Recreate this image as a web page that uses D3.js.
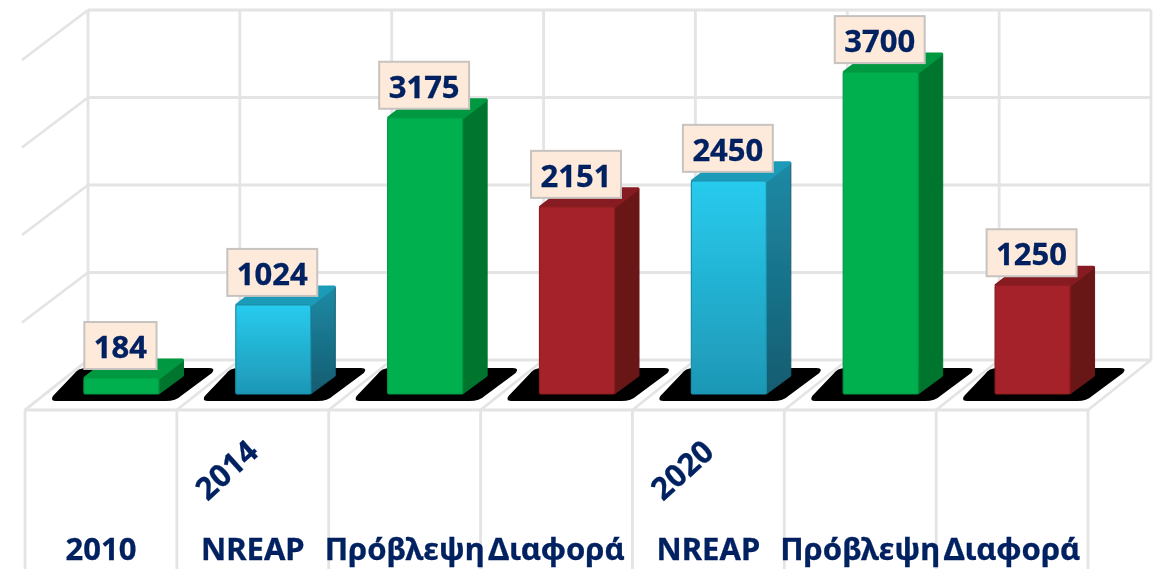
<!DOCTYPE html>
<html>
<head>
<meta charset="utf-8">
<script src="https://cdn.jsdelivr.net/npm/d3@7"></script>
<style>
  html, body { margin: 0; padding: 0; background: #fff; overflow: hidden; }
  text { font-family: "Noto Sans", sans-serif; font-weight: 700; fill: #002060; stroke: #002060; stroke-width: 0.3px; }
</style>
</head>
<body>
<div id="chart"></div>
<script>
const categories = ["2010", "NREAP", "Πρόβλεψη", "Διαφορά", "NREAP", "Πρόβλεψη", "Διαφορά"];
const values = [184, 1024, 3175, 2151, 2450, 3700, 1250];
const barKinds = ["green", "blue", "green", "red", "blue", "green", "red"];
const groupLabels = ["2014", "2020"];
const groupCategory = [1, 4];
const gridTicks = [0, 1000, 2000, 3000, 4000];

const width = 1165;
const height = 569;
const gridColor = "#e4e4e4";
const fontSize = 31;

// the fake 3d: back wall is the front plane pushed by this much
const depthX = 63;
const depthY = -50;
const barW = 75;
const barDepthX = 24.5;
const barDepthY = -18;

const svg = d3.select("#chart").append("svg").attr("width", width).attr("height", height);

const defs = svg.append("defs");
defs.append("filter").attr("id", "soft")
  .attr("x", "-2%").attr("y", "-2%").attr("width", "104%").attr("height", "104%")
  .append("feGaussianBlur").attr("stdDeviation", 0.45);

const palette = {
  green: { front: ["#00b050", "#00b050"], side: ["#00752f", "#00752f"], top: "#00983f", rim: "#009a46" },
  blue: { front: ["#28cbee", "#1e97b5"], side: ["#1e8aa5", "#135c70"], top: "#1f9bb8", rim: "#1b8fab" },
  red: { front: ["#a52429", "#a52429"], side: ["#671517", "#671517"], top: "#861c20", rim: "#8c1d21" }
};

Object.keys(palette).forEach((k) => {
  ["front", "side"].forEach((part) => {
    const grad = defs.append("linearGradient").attr("id", k + "-" + part)
      .attr("x1", 0).attr("y1", 0).attr("x2", 0).attr("y2", 1);
    grad.append("stop").attr("offset", "0%").attr("stop-color", palette[k][part][0]);
    grad.append("stop").attr("offset", "100%").attr("stop-color", palette[k][part][1]);
  });
});

const x = d3.scaleBand().domain(d3.range(categories.length)).range([25, 1088]);
const wallY = d3.scaleLinear().domain([0, 4000]).range([360, 10]);
const barY = d3.scaleLinear().domain([0, 4000]).range([394, 46]);

const chart = svg.append("g").attr("filter", "url(#soft)");

// walls and floor
const walls = chart.append("g")
  .attr("fill", "none")
  .attr("stroke", gridColor)
  .attr("stroke-width", 2.8);

const backLeft = x(0) + depthX;
const backRight = x.range()[1] + depthX;
const slots = d3.range(categories.length + 1).map((i) => x.range()[0] + i * x.step());

walls.selectAll(".hgrid").data(gridTicks).enter().append("line")
  .attr("x1", backLeft).attr("x2", backRight)
  .attr("y1", (d) => wallY(d)).attr("y2", (d) => wallY(d));

walls.selectAll(".vgrid").data(slots).enter().append("line")
  .attr("x1", (d) => d + depthX).attr("x2", (d) => d + depthX)
  .attr("y1", wallY(4000)).attr("y2", wallY(0));

// side wall, the upper ones stop a bit short of the floor corner
walls.selectAll(".sidegrid").data(gridTicks).enter().append("line")
  .attr("x1", backLeft).attr("y1", (d) => wallY(d))
  .attr("x2", (d) => (d === 0 ? backLeft - depthX : backLeft - 66))
  .attr("y2", (d) => wallY(d) - depthY);

walls.selectAll(".floorgrid").data(slots).enter().append("line")
  .attr("x1", (d) => d).attr("y1", wallY(0) - depthY)
  .attr("x2", (d) => d + depthX).attr("y2", wallY(0));

walls.append("line")
  .attr("x1", x.range()[0]).attr("x2", x.range()[1])
  .attr("y1", wallY(0) - depthY).attr("y2", wallY(0) - depthY);

walls.selectAll(".catgrid").data(slots).enter().append("line")
  .attr("x1", (d) => d).attr("x2", (d) => d)
  .attr("y1", wallY(0) - depthY).attr("y2", height);

const barLeft = (i) => x(i) + (x.step() - barW) / 2 + 20.5;

// black floor shadows, rounded at the two obtuse corners
chart.append("g").selectAll("path").data(values).enter().append("path")
  .attr("fill", "#000")
  .attr("d", (d, i) => {
    const l = barLeft(i);
    const b = barY(0);
    const p = d3.path();
    p.moveTo(l - 28, b + 7);
    p.lineTo(l + 82, b + 7);
    p.quadraticCurveTo(l + 92, b + 7, l + 97, b + 2);
    p.lineTo(l + 128, b - 21);
    p.quadraticCurveTo(l + 132, b - 26, l + 125, b - 26);
    p.lineTo(l + 2, b - 26);
    p.quadraticCurveTo(l - 6, b - 26, l - 10, b - 20);
    p.lineTo(l - 31, b + 2);
    p.quadraticCurveTo(l - 34, b + 7, l - 28, b + 7);
    p.closePath();
    return p.toString();
  });

// bars
const bars = chart.append("g").selectAll("g").data(values).enter().append("g");

bars.append("path")
  .attr("fill", (d, i) => `url(#${barKinds[i]}-side)`)
  .attr("stroke", (d, i) => palette[barKinds[i]].side[1])
  .attr("stroke-width", 1)
  .attr("stroke-linejoin", "round")
  .attr("d", (d, i) => {
    const r = barLeft(i) + barW;
    return d3.line()([
      [r, barY(0)], [r + barDepthX, barY(0) + barDepthY],
      [r + barDepthX, barY(d) + barDepthY], [r, barY(d)]
    ]) + "Z";
  });

bars.append("path")
  .attr("fill", (d, i) => palette[barKinds[i]].top)
  .attr("stroke", (d, i) => palette[barKinds[i]].top)
  .attr("stroke-width", 3)
  .attr("stroke-linejoin", "round")
  .attr("d", (d, i) => {
    const l = barLeft(i);
    return d3.line()([
      [l + 1, barY(d)], [l + barDepthX, barY(d) + barDepthY],
      [l + barW + barDepthX - 1, barY(d) + barDepthY], [l + barW, barY(d)]
    ]) + "Z";
  });

bars.append("rect")
  .attr("x", (d, i) => barLeft(i))
  .attr("y", (d) => barY(d))
  .attr("width", barW)
  .attr("height", (d) => barY(0) - barY(d))
  .attr("rx", 2)
  .attr("fill", (d, i) => `url(#${barKinds[i]}-front)`)
  .attr("stroke", (d, i) => palette[barKinds[i]].rim)
  .attr("stroke-width", 1.2);

// value labels
const labels = chart.append("g").selectAll("g").data(values).enter().append("g");

const labelBox = labels.append("rect")
  .attr("fill", "#fdeadb")
  .attr("stroke", "#c6c3c0")
  .attr("stroke-width", 2);

const labelText = labels.append("text")
  .attr("text-anchor", "middle")
  .attr("font-size", fontSize)
  .attr("x", (d, i) => barLeft(i) + barW / 2 - 1)
  .attr("y", (d) => barY(d) - 20)
  .text((d) => d);

labelText.each(function (d, i) {
  const w = this.getComputedTextLength() + 19;
  d3.select(labelBox.nodes()[i])
    .attr("x", barLeft(i) + barW / 2 - 1 - w / 2)
    .attr("y", barY(d) - 56)
    .attr("width", w)
    .attr("height", 47);
});

// category axis, drawn with the tick lines switched off because the walls already have them
const axis = chart.append("g")
  .attr("transform", `translate(0,${height - 35})`)
  .call(d3.axisBottom(x).tickSize(0).tickPadding(0).tickFormat((i) => categories[i]));
axis.select(".domain").remove();
axis.selectAll("text")
  .attr("font-size", fontSize)
  .attr("y", 25.5)
  .attr("dy", 0);
axis.attr("font-family", null).attr("font-size", null);

// second level of the axis
chart.append("g").selectAll("text").data(groupLabels).enter().append("text")
  .attr("text-anchor", "middle")
  .attr("font-size", fontSize)
  .attr("transform", (d, i) => `translate(${x(groupCategory[i]) + 57},478) rotate(-42)`)
  .text((d) => d);
</script>
</body>
</html>
